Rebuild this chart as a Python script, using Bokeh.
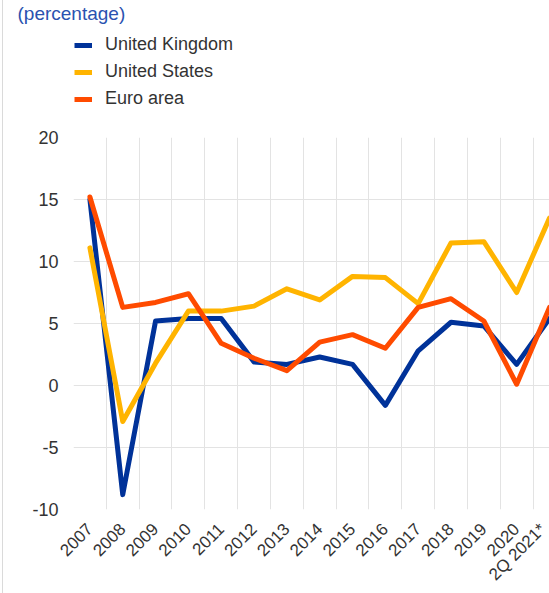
import math
from bokeh.plotting import figure
from bokeh.layouts import column
from bokeh.models import Range1d, FixedTicker, Legend, LegendItem
from bokeh.embed import file_html
from bokeh.resources import INLINE

categories = ["2007", "2008", "2009", "2010", "2011", "2012", "2013", "2014",
              "2015", "2016", "2017", "2018", "2019", "2020", "2Q 2021*"]
united_kingdom = [15.0, -8.8, 5.2, 5.4, 5.4, 1.9, 1.7, 2.3, 1.7, -1.6, 2.8, 5.1, 4.8, 1.7, 5.4]
united_states = [11.1, -2.9, 1.8, 6.0, 6.0, 6.4, 7.8, 6.9, 8.8, 8.7, 6.6, 11.5, 11.6, 7.5, 13.5]
euro_area = [15.2, 6.3, 6.7, 7.4, 3.4, 2.2, 1.2, 3.5, 4.1, 3.0, 6.3, 7.0, 5.2, 0.1, 6.3]
y_ticks = [-10, -5, 0, 5, 10, 15, 20]
y_tick_labels = ["-10", "-5", "0", "5", "10", "15", "20"]

series = [("United Kingdom", united_kingdom, "#003299"),
          ("United States", united_states, "#ffb400"),
          ("Euro area", euro_area, "#ff4b00")]

FONT = "Liberation Sans"
TXT = "#333333"

xs = [i + 0.5 for i in range(len(categories))]

W = 546
HEAD_H = 125
TOP_PAD = 12

# ---- header: unit title + legend ----
head = figure(width=W, height=HEAD_H, output_backend="svg", toolbar_location=None,
              x_range=Range1d(0, 1), y_range=Range1d(0, 1),
              x_axis_location=None, y_axis_location=None,
              min_border_left=70, min_border_right=0, min_border_top=0, min_border_bottom=0)
head.grid.visible = False
head.outline_line_color = None
head.border_fill_color = "white"
head.title.text = "(percentage)"
head.title.text_font = FONT
head.title.text_font_size = "19px"
head.title.text_font_style = "normal"
head.title.text_color = "#2a52b0"
head.title.align = "left"
head.title.offset = -56
head.title.standoff = 0

items = []
for name, vals, color in series:
    # legend keys only; their points lie outside the header's visible ranges
    r = head.line([-2, -1], [-2, -1], line_color=color, line_width=5)
    items.append(LegendItem(label=name, renderers=[r]))
legend = Legend(items=items, location=(1, 16), orientation="vertical",
                padding=0, margin=0,
                border_line_color=None, background_fill_alpha=0,
                label_text_font=FONT, label_text_font_size="18px", label_text_color=TXT,
                glyph_width=18, glyph_height=20, label_standoff=13, spacing=6,
                label_height=20)
head.add_layout(legend)

# ---- main chart ----
p = figure(width=W, height=593 - HEAD_H, output_backend="svg", toolbar_location=None,
           x_range=Range1d(0, len(categories) - 0.5), y_range=Range1d(-10, 20),
           min_border_left=70, min_border_right=0, min_border_top=TOP_PAD, min_border_bottom=82)
p.title = None
p.outline_line_color = None
p.background_fill_color = "white"
p.border_fill_color = "white"

p.xaxis.ticker = FixedTicker(ticks=xs)
p.xaxis.major_label_overrides = {x: c for x, c in zip(xs, categories)}
p.xaxis.major_label_orientation = math.pi / 4
p.yaxis.ticker = FixedTicker(ticks=y_ticks)
p.yaxis.major_label_overrides = {t: s for t, s in zip(y_ticks, y_tick_labels)}
for ax in (p.xaxis[0], p.yaxis[0]):
    ax.axis_line_color = None
    ax.major_tick_line_color = None
    ax.minor_tick_line_color = None
    ax.major_tick_out = 0
    ax.major_tick_in = 0
    ax.major_label_text_font = FONT
    ax.major_label_text_color = TXT
p.yaxis.major_label_text_font_size = "18px"
p.xaxis.major_label_text_font_size = "17px"
p.yaxis.major_label_standoff = 15
p.xaxis.major_label_standoff = 17

p.xgrid.ticker = FixedTicker(ticks=list(range(len(categories) + 1)))
p.ygrid.ticker = FixedTicker(ticks=y_ticks)
for g in (p.xgrid[0], p.ygrid[0]):
    g.grid_line_color = "#e3e3e3"
    g.grid_line_width = 1

for name, vals, color in series:
    p.line(xs, vals, line_color=color, line_width=5, line_join="round", line_cap="round")

layout = column(head, p, spacing=0,
                styles={"border-left": "1px solid #dadada", "margin-left": "2px"})

open("out.html", "w").write(file_html(layout, INLINE))
